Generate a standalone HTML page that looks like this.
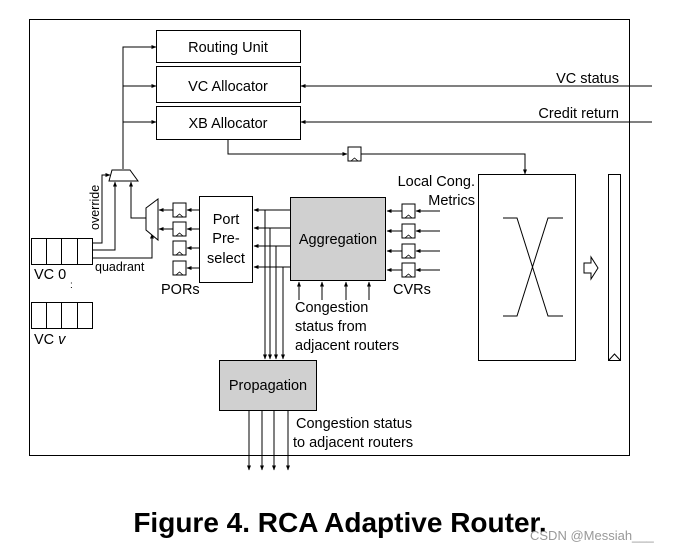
<!DOCTYPE html>
<html><head><meta charset="utf-8"><style>
body{margin:0;background:#fff;width:688px;height:551px;overflow:hidden}
svg{display:block}
text{font-family:"Liberation Sans",Arial,sans-serif;fill:#000}
</style></head><body>
<svg width="688" height="551" viewBox="0 0 688 551" xmlns="http://www.w3.org/2000/svg">
<defs>
<marker id="a" markerWidth="5" markerHeight="5" refX="4.5" refY="2.5" orient="auto" markerUnits="userSpaceOnUse"><path d="M0,0.5 L5,2.5 L0,4.5z" fill="#000"/></marker>
<g id="reg"><rect x="0" y="0" width="13" height="14" fill="#fff" stroke="#000" stroke-width="1"/><path d="M3,14 L6.5,11 L10,14" fill="none" stroke="#000" stroke-width="0.8"/></g>
</defs>
<g stroke="#000" stroke-width="1" fill="none">
<rect x="29.5" y="19.5" width="600" height="436"/>
<rect x="156.5" y="30.5" width="144" height="32"/>
<rect x="156.5" y="66.5" width="144" height="36"/>
<rect x="156.5" y="106.5" width="144" height="33"/>
</g>
<g stroke="#000" stroke-width="1" fill="none" marker-end="url(#a)">
<path d="M123,169 V47 H156"/>
<path d="M123,86 H156"/>
<path d="M123,122 H156"/>
<path d="M652,86 H301"/>
<path d="M652,122 H301"/>
<path d="M228,139 V154 H347"/>
<path d="M361,154 H525 V174"/>
<path d="M440,211 H416"/><path d="M440,231 H416"/><path d="M440,251 H416"/><path d="M440,270 H416"/>
<path d="M402,211 H387"/><path d="M402,231 H387"/><path d="M402,251 H387"/><path d="M402,270 H387"/>
<path d="M299,300 V282"/><path d="M322,300 V282"/><path d="M346,300 V282"/><path d="M369,300 V282"/>
<path d="M290,210 H254"/><path d="M290,228 H254"/><path d="M290,246 H254"/><path d="M290,267 H254"/>
<path d="M265,210 V359"/><path d="M270,228 V359"/><path d="M276,246 V359"/><path d="M283,267 V359"/>
<path d="M249,410 V470"/><path d="M262,410 V470"/><path d="M274,410 V470"/><path d="M288,410 V470"/>
<path d="M199,210 H187"/><path d="M199,229 H187"/><path d="M199,248 H187"/><path d="M199,268 H187"/>
<path d="M173,210 H159"/><path d="M173,229 H159"/>
<path d="M146,218 H131 V182"/>
<path d="M92,243 H102 V175 H110"/>
<path d="M92,250 H115 V182"/>
<path d="M92,258 H152 V234"/>
</g>
<g stroke="#000" stroke-width="1" fill="none">
<rect x="478.5" y="174.5" width="97" height="186"/>
<path d="M503,218 H517 L548,316 H563 M503,316 H517 L548,218 H563"/>
<path d="M584,263 H591 V257 L598,268 L591,279 V273 H584 Z"/>
<rect x="608.5" y="174.5" width="12" height="186"/>
<path d="M609,360 L614.5,354 L620,360"/>
<rect x="290.5" y="197.5" width="95" height="83" fill="#d0d0d0"/>
<rect x="199.5" y="196.5" width="53" height="86"/>
<rect x="219.5" y="360.5" width="97" height="50" fill="#d0d0d0"/>
<path d="M146,208 L158,199 V240 L146,230 Z" fill="#fff"/>
<path d="M112,170 H130 L138,181 H109 Z" fill="#fff"/>
<rect x="31.5" y="238.5" width="61" height="26"/>
<path d="M46.5,238 V264 M61.5,238 V264 M77.5,238 V264"/>
<rect x="31.5" y="302.5" width="61" height="26"/>
<path d="M46.5,302 V328 M61.5,302 V328 M77.5,302 V328"/>
</g>
<use href="#reg" x="348" y="147"/>
<use href="#reg" x="402" y="204"/><use href="#reg" x="402" y="224"/><use href="#reg" x="402" y="244"/><use href="#reg" x="402" y="263"/>
<use href="#reg" x="173" y="203"/><use href="#reg" x="173" y="222"/><use href="#reg" x="173" y="241"/><use href="#reg" x="173" y="261"/>
<g font-size="14.5">
<text x="228" y="52" text-anchor="middle">Routing Unit</text>
<text x="228" y="91" text-anchor="middle">VC Allocator</text>
<text x="228" y="128" text-anchor="middle">XB Allocator</text>
<text x="619" y="83" text-anchor="end">VC status</text>
<text x="619" y="118" text-anchor="end">Credit return</text>
<text x="475" y="186" text-anchor="end">Local Cong.</text>
<text x="475" y="205" text-anchor="end">Metrics</text>
<text x="338" y="244" text-anchor="middle">Aggregation</text>
<text x="393" y="294">CVRs</text>
<text x="295" y="312">Congestion</text>
<text x="295" y="331">status from</text>
<text x="295" y="350">adjacent routers</text>
<text x="226" y="224" text-anchor="middle">Port</text>
<text x="226" y="243" text-anchor="middle">Pre-</text>
<text x="226" y="263" text-anchor="middle">select</text>
<text x="161" y="294">PORs</text>
<text x="268" y="390" text-anchor="middle">Propagation</text>
<text x="296" y="428">Congestion status</text>
<text x="293" y="447">to adjacent routers</text>
<text x="34" y="279">VC 0</text>
<text x="34" y="344">VC <tspan font-style="italic">v</tspan></text>
</g>
<text x="70" y="288" font-size="10">:</text>
<text x="95" y="271" font-size="12.5">quadrant</text>
<text transform="translate(99,230) rotate(-90)" font-size="12.5">override</text>
<text x="340" y="532" font-size="28" font-weight="bold" text-anchor="middle">Figure 4. RCA Adaptive Router.</text>
<text x="530" y="540" font-size="13" style="fill:#999">CSDN @Messiah___</text>
</svg>
</body></html>
